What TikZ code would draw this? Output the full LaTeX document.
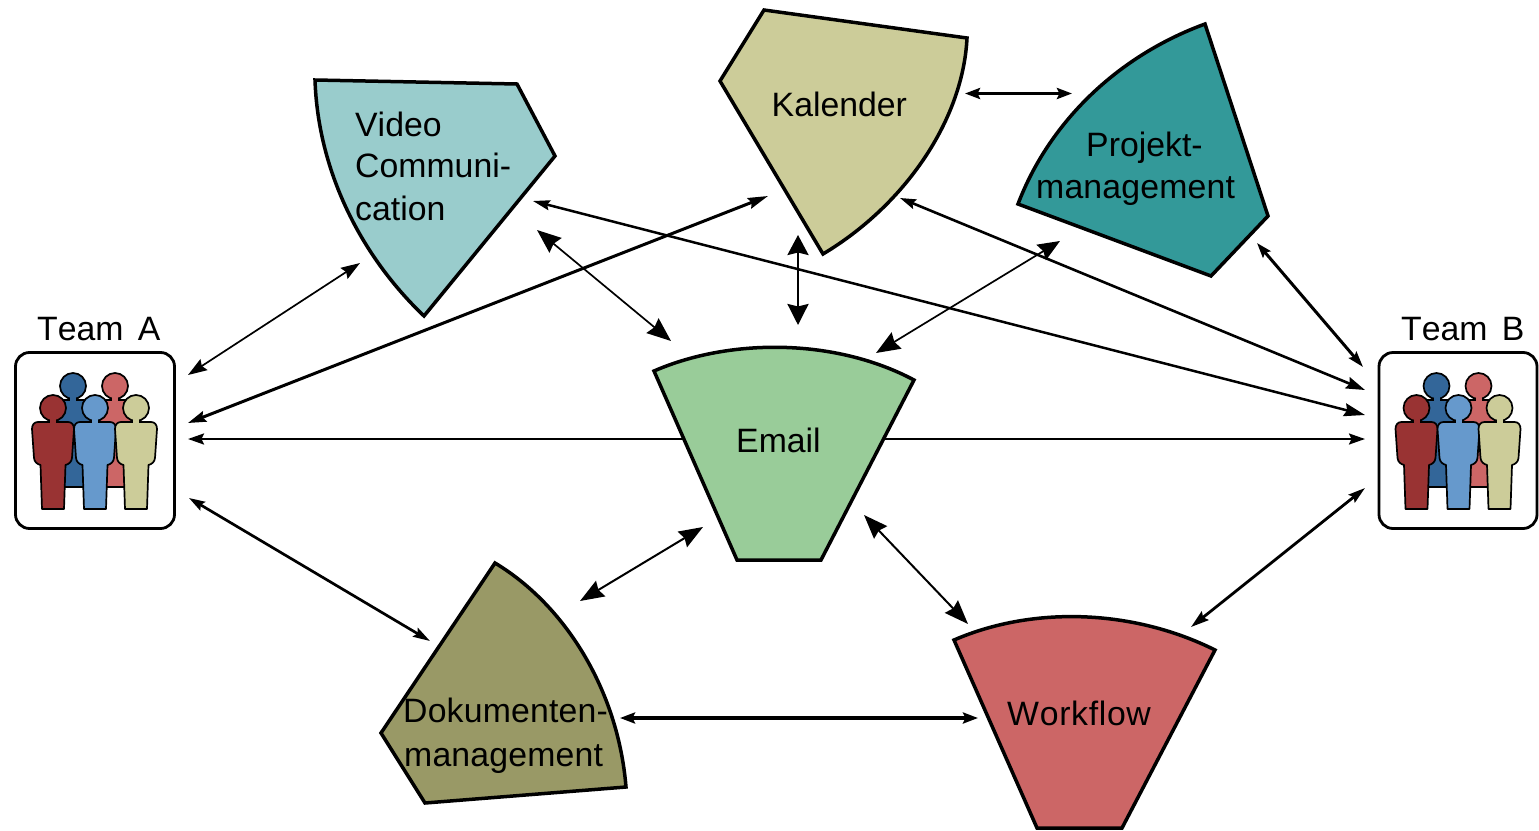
\documentclass[tikz,border=0pt]{standalone}
\usepackage{fontspec}
\setmainfont[Kerning=Off,Ligatures=NoCommon]{Liberation Sans}
\usetikzlibrary{arrows.meta}
\definecolor{cvideo}{HTML}{99CCCC}
\definecolor{ckal}{HTML}{CCCC99}
\definecolor{cproj}{HTML}{339999}
\definecolor{cmail}{HTML}{99CC99}
\definecolor{cflow}{HTML}{CC6666}
\definecolor{cdoku}{HTML}{999966}
\definecolor{pblue}{HTML}{336699}
\definecolor{pred}{HTML}{993333}
\definecolor{plight}{HTML}{6699CC}
\tikzset{
  x=1pt,y=-1pt,
  sector/.style={draw=black,line width=3.5pt,line join=miter},
  lbl/.style={font=\fontsize{33.8}{42}\selectfont,inner sep=0pt,anchor=base west},
  teambox/.style={draw=black,line width=2.8pt,rounded corners=14pt,minimum height=176pt,inner sep=0pt,fill=white},
  dart/.style n args={5}{line width=#1pt,{Stealth[length=#2pt,width=#3pt,inset=2.5pt]}-{Stealth[length=#4pt,width=#5pt,inset=2.5pt]}},
  pics/person/.style={code={
    \draw[fill=#1,line width=1.7pt,line join=round]
      (-15,14) -- (15,14) .. controls (19,14) and (21,17) .. (21,21) -- (19,50)
      .. controls (18.5,54) and (16,56) .. (12.5,57) -- (11,101) -- (-11,101) -- (-12.5,57)
      .. controls (-16,56) and (-18.5,54) .. (-19,50) -- (-21,21)
      .. controls (-21,17) and (-19,14) .. (-15,14) -- cycle;
    \draw[fill=#1,line width=1.7pt] (0,0) circle (13);
    \fill[#1] (-3,11) rectangle (3,16);
  }},
}
\begin{document}
\begin{tikzpicture}
\useasboundingbox (0,0) rectangle (1539,830);
% team boxes
\node[teambox,minimum width=159pt] (teamA) at (95,440.5) {};
\node[teambox,minimum width=158pt] (teamB) at (1458,440.5) {};
\foreach \ox in {0,1363.5}{
  \begin{scope}[shift={(\ox,0)}]
  \pic at (73,386) {person=pblue};
  \pic at (115,386) {person=cflow};
  \pic at (53,408) {person=pred};
  \pic at (95,408) {person=plight};
  \pic at (136,408) {person=ckal};
  \end{scope}
}
\node[lbl] (labA) at (37,340) {Team\hspace{5pt} A};
\node[lbl] (labB) at (1401,340) {Team\hspace{5pt} B};
% connector ends
\coordinate (a1) at (188,375); \coordinate (v1) at (360,263);
\coordinate (a2) at (188,423); \coordinate (k1) at (768,196);
\coordinate (a3) at (188,439); \coordinate (b3) at (1365,439);
\coordinate (a4) at (189,498); \coordinate (d1) at (430,641);
\coordinate (v2) at (533,201); \coordinate (b2) at (1365,415);
\coordinate (v3) at (537,230); \coordinate (e1) at (671,341);
\coordinate (k2) at (900,198); \coordinate (b1) at (1365,390);
\coordinate (k3) at (798,235); \coordinate (e2) at (798,325);
\coordinate (p1) at (1060,241); \coordinate (e3) at (876,353);
\coordinate (k4) at (965,93.5); \coordinate (p2) at (1072,93.5);
\coordinate (p3) at (1257,243); \coordinate (b0) at (1363,367);
\coordinate (b4) at (1365,488); \coordinate (w1) at (1191,627);
\coordinate (e4) at (703,527); \coordinate (d2) at (580,601);
\coordinate (e5) at (864,515); \coordinate (w2) at (968,624);
\coordinate (d3) at (620,718); \coordinate (w3) at (978,718);
% connector behind Email
\draw[dart={2.2}{16}{11}{16}{11}] (a3) -- (b3);
% sectors
\draw[sector,fill=cvideo] (315,80) -- (517,84) -- (555,156) -- (424,316)
  .. controls (360,255) and (318,170) .. (315,80) -- cycle;
\draw[sector,fill=ckal] (764,10) -- (967,38)
  .. controls (963,120) and (905,205) .. (823,254) -- (720,81) -- cycle;
\draw[sector,fill=cproj] (1205,24) -- (1268,216) -- (1211,276) -- (1018,204)
  .. controls (1050,120) and (1120,55) .. (1205,24) -- cycle;
\draw[sector,fill=cmail] (654,371) .. controls (730,338) and (835,338) .. (914,380)
  -- (821,560) -- (737,560) -- cycle;
\draw[sector,fill=cflow] (954,640) .. controls (1035,605) and (1135,610) .. (1215,650)
  -- (1122,828) -- (1037,828) -- cycle;
\draw[sector,fill=cdoku] (495,563) .. controls (565,605) and (618,690) .. (626,787)
  -- (425,803) -- (381,733) -- cycle;
% labels
\node[lbl] (tv1) at (355,136) {Video};
\node[lbl] (tv2) at (355,177) {Communi-};
\node[lbl] (tv3) at (355,220) {cation};
\node[lbl] (tk) at (771.5,116) {Kalender};
\node[lbl] (tp1) at (1086,156) {Projekt-};
\node[lbl] (tp2) at (1036,198) {\addfontfeature{LetterSpace=0.5}management};
\node[lbl] (te) at (736,452) {Email};
\node[lbl] (tw) at (1007,725) {\addfontfeature{LetterSpace=2}Workflow};
\node[lbl] (td1) at (403,722) {\addfontfeature{LetterSpace=0.5}Dokumenten-};
\node[lbl] (td2) at (404,766) {\addfontfeature{LetterSpace=0.5}management};
% connectors
\draw[dart={1.7}{19}{13}{19}{13}] (a1) -- (v1);
\draw[dart={3}{18}{11}{20}{11}] (a2) -- (k1);
\draw[dart={2.7}{16}{10}{17}{10}] (a4) -- (d1);
\draw[dart={2.5}{17}{10}{21}{13}] (v2) -- (b2);
\draw[dart={1.7}{24}{19}{24}{19}] (v3) -- (e1);
\draw[dart={2.6}{16}{10}{19}{12}] (k2) -- (b1);
\draw[dart={2.6}{20}{21}{21}{21}] (k3) -- (e2);
\draw[dart={1.7}{22}{18}{24}{19}] (p1) -- (e3);
\draw[dart={3.4}{15}{11}{15}{11}] (k4) -- (p2);
\draw[dart={3}{15}{10}{16}{10}] (p3) -- (b0);
\draw[dart={2.8}{17}{10}{18}{11}] (b4) -- (w1);
\draw[dart={2}{24}{18}{24}{18}] (e4) -- (d2);
\draw[dart={2}{24}{18}{24}{18}] (e5) -- (w2);
\draw[dart={3.8}{15}{11}{15}{11}] (d3) -- (w3);
\end{tikzpicture}
\end{document}
